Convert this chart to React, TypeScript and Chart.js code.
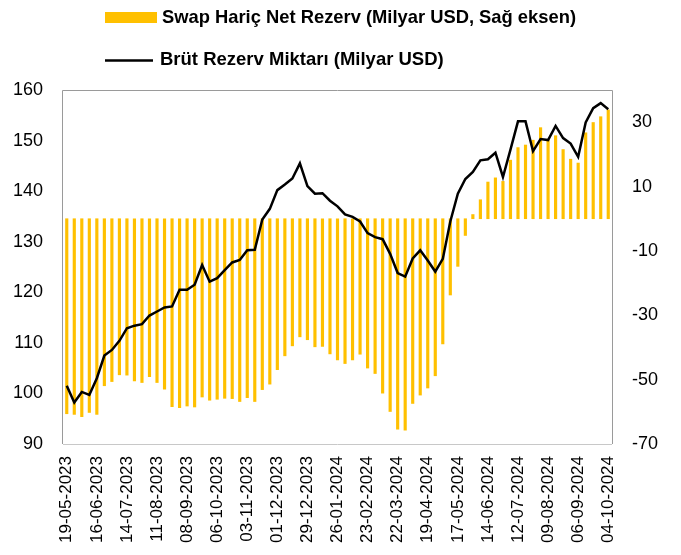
import React, { useEffect, useRef } from "react";
import { Chart, registerables } from "chart.js";

Chart.register(...registerables);

const categories = [
  "19-05-2023", "26-05-2023", "02-06-2023", "09-06-2023", "16-06-2023", "23-06-2023", "30-06-2023",
  "07-07-2023", "14-07-2023", "21-07-2023", "28-07-2023", "04-08-2023", "11-08-2023", "18-08-2023",
  "25-08-2023", "01-09-2023", "08-09-2023", "15-09-2023", "22-09-2023", "29-09-2023", "06-10-2023",
  "13-10-2023", "20-10-2023", "27-10-2023", "03-11-2023", "10-11-2023", "17-11-2023", "24-11-2023",
  "01-12-2023", "08-12-2023", "15-12-2023", "22-12-2023", "29-12-2023", "05-01-2024", "12-01-2024",
  "19-01-2024", "26-01-2024", "02-02-2024", "09-02-2024", "16-02-2024", "23-02-2024", "01-03-2024",
  "08-03-2024", "15-03-2024", "22-03-2024", "29-03-2024", "05-04-2024", "12-04-2024", "19-04-2024",
  "26-04-2024", "03-05-2024", "10-05-2024", "17-05-2024", "24-05-2024", "31-05-2024", "07-06-2024",
  "14-06-2024", "21-06-2024", "28-06-2024", "05-07-2024", "12-07-2024", "19-07-2024", "26-07-2024",
  "02-08-2024", "09-08-2024", "16-08-2024", "23-08-2024", "30-08-2024", "06-09-2024", "13-09-2024",
  "20-09-2024", "27-09-2024", "04-10-2024",
];

const shownTickLabels = [
  "19-05-2023", "16-06-2023", "14-07-2023", "11-08-2023", "08-09-2023", "06-10-2023", "03-11-2023",
  "01-12-2023", "29-12-2023", "26-01-2024", "23-02-2024", "22-03-2024", "19-04-2024", "17-05-2024",
  "14-06-2024", "12-07-2024", "09-08-2024", "06-09-2024", "04-10-2024",
];

// Brüt Rezerv Miktarı (Milyar USD) - left axis
const grossReserves = [
  101.5, 98.2, 100.3, 99.7, 103.0, 107.5, 108.6, 110.4, 112.9, 113.4, 113.7, 115.4, 116.2, 117.0,
  117.2, 120.5, 120.5, 121.5, 125.4, 122.1, 122.8, 124.4, 125.9, 126.4, 128.3, 128.4, 134.4, 136.5,
  140.2, 141.3, 142.5, 145.5, 141.0, 139.5, 139.6, 138.1, 137.0, 135.4, 134.9, 134.0, 131.7, 130.9,
  130.5, 127.6, 123.8, 123.1, 126.7, 128.3, 126.3, 124.1, 126.6, 134.0, 139.5, 142.4, 143.8, 146.1,
  146.3, 147.6, 142.8, 148.2, 153.8, 153.8, 147.9, 150.3, 150.1, 152.9, 150.5, 149.4, 146.8, 153.6,
  156.4, 157.4, 156.2,
];

// Swap Hariç Net Rezerv (Milyar USD, Sağ eksen) - right axis
const netReservesExSwap = [
  -60.6, -60.8, -61.5, -60.2, -60.8, -51.9, -50.6, -48.5, -48.6, -50.4, -50.9, -49.1, -50.9, -53.0,
  -58.4, -58.7, -58.2, -58.5, -55.4, -56.4, -56.1, -55.8, -55.9, -56.8, -55.6, -56.8, -53.1, -51.4,
  -46.9, -42.6, -39.5, -36.7, -37.6, -39.8, -39.7, -42.0, -43.9, -45.0, -43.9, -42.1, -46.4, -48.1,
  -54.2, -59.9, -65.4, -65.7, -57.4, -54.8, -52.6, -48.8, -38.9, -23.7, -14.8, -5.2, 1.3, 5.9,
  11.4, 12.7, 11.6, 18.2, 22.1, 22.9, 24.4, 28.3, 24.4, 25.8, 21.5, 18.5, 17.3, 26.7,
  29.9, 31.7, 33.8,
];

const rightTicks = [-70, -50, -30, -10, 10, 30];

const barLabel = "Swap Hariç Net Rezerv (Milyar USD, Sağ eksen)";
const lineLabel = "Brüt Rezerv Miktarı (Milyar USD)";

const framePlugin = {
  id: "frame",
  beforeDatasetsDraw(chart: any) {
    const { ctx, chartArea } = chart;
    const { left, right, top, bottom } = chartArea;
    ctx.save();
    ctx.lineWidth = 1;
    ctx.strokeStyle = "#c8c8c8";
    ctx.beginPath();
    ctx.moveTo(left, bottom + 0.5);
    ctx.lineTo(right, bottom + 0.5);
    ctx.stroke();
    ctx.strokeStyle = "#9a9a9a";
    ctx.beginPath();
    ctx.moveTo(Math.round(left) - 0.5, bottom);
    ctx.lineTo(Math.round(left) - 0.5, Math.round(top) + 0.5);
    ctx.lineTo(Math.round(right) + 0.5, Math.round(top) + 0.5);
    ctx.lineTo(Math.round(right) + 0.5, bottom);
    ctx.stroke();
    ctx.restore();
  },
};

const legendPlugin = {
  id: "customLegend",
  afterDraw(chart: any) {
    const { ctx } = chart;
    ctx.save();
    ctx.fillStyle = "#FFC000";
    ctx.fillRect(105, 12, 52, 11);
    ctx.strokeStyle = "#000";
    ctx.lineWidth = 2.5;
    ctx.beginPath();
    ctx.moveTo(105, 60.5);
    ctx.lineTo(153, 60.5);
    ctx.stroke();
    ctx.fillStyle = "#000";
    ctx.font = "bold 18.5px 'Liberation Sans', Arial, sans-serif";
    ctx.textBaseline = "middle";
    ctx.textAlign = "left";
    ctx.fillText(barLabel, 162, 18, 414);
    ctx.fillText(lineLabel, 160, 60, 292);
    ctx.restore();
  },
};

export default function App() {
  const canvasRef = useRef<HTMLCanvasElement | null>(null);

  useEffect(() => {
    document.body.style.margin = "0";
    const canvas = canvasRef.current;
    if (!canvas) return;
    const chart = new Chart(canvas, {
      type: "bar",
      data: {
        labels: categories,
        datasets: [
          {
            type: "line",
            label: lineLabel,
            data: grossReserves,
            borderColor: "#000000",
            backgroundColor: "#000000",
            borderWidth: 2.5,
            pointRadius: 0,
            tension: 0,
            yAxisID: "y",
            order: 0,
          } as any,
          {
            type: "bar",
            label: barLabel,
            data: netReservesExSwap,
            backgroundColor: "#FFC000",
            barThickness: 2.5,
            yAxisID: "y1",
            order: 1,
          },
        ],
      },
      options: {
        animation: false,
        responsive: false,
        maintainAspectRatio: false,
        layout: { padding: { top: 90, left: 0, right: 0, bottom: 0 } },
        plugins: {
          legend: { display: false },
          tooltip: { enabled: false },
        },
        scales: {
          x: {
            type: "category",
            offset: true,
            grid: { display: false, drawTicks: false },
            border: { display: false },
            ticks: {
              autoSkip: false,
              maxRotation: 90,
              minRotation: 90,
              padding: 12,
              color: "#000",
              font: { family: "'Liberation Sans', Arial, sans-serif", size: 17 },
              callback: (_v: any, i: number) =>
                shownTickLabels.includes(categories[i]) ? categories[i] : "",
            },
            afterFit: (scale: any) => {
              scale.height = 111;
            },
          },
          y: {
            position: "left",
            min: 90,
            max: 160,
            grid: { display: false, drawTicks: false },
            border: { display: false },
            ticks: {
              stepSize: 10,
              padding: 20,
              color: "#000",
              font: { family: "'Liberation Sans', Arial, sans-serif", size: 18 },
            },
            afterFit: (scale: any) => {
              scale.width = 63;
            },
          },
          y1: {
            position: "right",
            min: -70,
            max: 40,
            grid: { display: false, drawTicks: false },
            border: { display: false },
            ticks: {
              padding: 20,
              color: "#000",
              font: { family: "'Liberation Sans', Arial, sans-serif", size: 18 },
            },
            afterBuildTicks: (scale: any) => {
              scale.ticks = rightTicks.map((v) => ({ value: v }));
            },
            afterFit: (scale: any) => {
              scale.width = 69;
            },
          },
        },
      },
      plugins: [framePlugin, legendPlugin],
    });
    return () => chart.destroy();
  }, []);

  return (
    <div style={{ width: 681, height: 555 }}>
      <canvas ref={canvasRef} width={681} height={555} style={{ display: "block" }} />
    </div>
  );
}
